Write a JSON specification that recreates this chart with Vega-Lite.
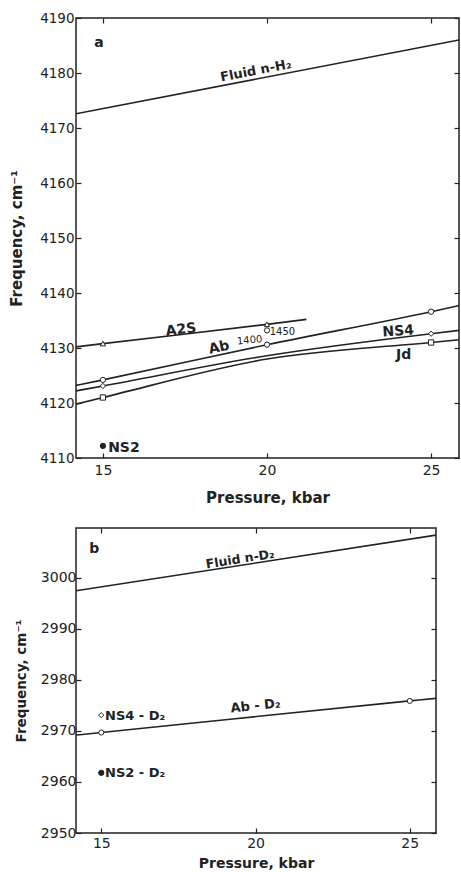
{
  "$schema": "https://vega.github.io/schema/vega-lite/v6.json",
  "background": "white",
  "padding": {"left": 8, "top": 10, "right": 0, "bottom": 0},
  "spacing": 20,
  "resolve": {"scale": {"shape": "independent", "fill": "independent", "size": "independent"}},
  "config": {
    "view": {"stroke": "#222", "strokeWidth": 1.5},
    "axis": {
      "domain": false, "grid": false, "tickColor": "#222", "tickSize": -5, "tickWidth": 1.2,
      "labelColor": "#222", "labelFont": "DejaVu Sans", "titleFont": "DejaVu Sans",
      "titleColor": "#222", "titleFontWeight": "bold", "format": "d"
    },
    "text": {"font": "DejaVu Sans", "fontWeight": "bold", "fill": "#222"}
  },
  "datasets": {
    "linesA": [
      {"series": "Fluid n-H2", "pressure": 14.18, "frequency": 4172.6},
      {"series": "Fluid n-H2", "pressure": 25.85, "frequency": 4186.0},
      {"series": "A2S", "pressure": 14.18, "frequency": 4130.2},
      {"series": "A2S", "pressure": 15, "frequency": 4130.8},
      {"series": "A2S", "pressure": 20, "frequency": 4134.3},
      {"series": "A2S", "pressure": 21.2, "frequency": 4135.2},
      {"series": "Ab", "pressure": 14.18, "frequency": 4123.2},
      {"series": "Ab", "pressure": 15, "frequency": 4124.2},
      {"series": "Ab", "pressure": 20, "frequency": 4130.6},
      {"series": "Ab", "pressure": 25, "frequency": 4136.6},
      {"series": "Ab", "pressure": 25.85, "frequency": 4137.7},
      {"series": "NS4", "pressure": 14.18, "frequency": 4122.2},
      {"series": "NS4", "pressure": 15, "frequency": 4123.1},
      {"series": "NS4", "pressure": 20, "frequency": 4128.6},
      {"series": "NS4", "pressure": 25, "frequency": 4132.6},
      {"series": "NS4", "pressure": 25.85, "frequency": 4133.2},
      {"series": "Jd", "pressure": 14.18, "frequency": 4119.8},
      {"series": "Jd", "pressure": 15, "frequency": 4121.0},
      {"series": "Jd", "pressure": 20, "frequency": 4128.0},
      {"series": "Jd", "pressure": 25, "frequency": 4131.0},
      {"series": "Jd", "pressure": 25.85, "frequency": 4131.5}
    ],
    "pointsA": [
      {"series": "A2S", "pressure": 15, "frequency": 4130.8},
      {"series": "A2S", "pressure": 20, "frequency": 4134.3},
      {"series": "Ab", "pressure": 15, "frequency": 4124.2},
      {"series": "Ab", "pressure": 20, "frequency": 4130.6},
      {"series": "Ab", "pressure": 25, "frequency": 4136.6},
      {"series": "Ab 1450", "pressure": 20, "frequency": 4133.2},
      {"series": "NS4", "pressure": 15, "frequency": 4123.1},
      {"series": "NS4", "pressure": 25, "frequency": 4132.6},
      {"series": "Jd", "pressure": 15, "frequency": 4121.0},
      {"series": "Jd", "pressure": 25, "frequency": 4131.0},
      {"series": "NS2", "pressure": 15, "frequency": 4112.2}
    ],
    "labelsA": [
      {"label": "a", "pressure": 14.88, "frequency": 4185.5},
      {"label": "Fluid n-H₂", "pressure": 19.66, "frequency": 4180.4},
      {"label": "A2S", "pressure": 17.38, "frequency": 4133.3},
      {"label": "Ab", "pressure": 18.54, "frequency": 4130.05},
      {"label": "1400", "pressure": 19.47, "frequency": 4131.4},
      {"label": "1450", "pressure": 20.47, "frequency": 4133.0},
      {"label": "NS4", "pressure": 24.0, "frequency": 4133.0},
      {"label": "Jd", "pressure": 24.16, "frequency": 4128.7},
      {"label": "NS2", "pressure": 15.64, "frequency": 4111.9}
    ],
    "linesB": [
      {"series": "Fluid n-D2", "pressure": 14.18, "frequency": 2997.5},
      {"series": "Fluid n-D2", "pressure": 25.85, "frequency": 3008.4},
      {"series": "Ab-D2", "pressure": 14.18, "frequency": 2969.2},
      {"series": "Ab-D2", "pressure": 15, "frequency": 2969.7},
      {"series": "Ab-D2", "pressure": 25, "frequency": 2975.9},
      {"series": "Ab-D2", "pressure": 25.85, "frequency": 2976.4}
    ],
    "pointsB": [
      {"series": "Ab-D2", "pressure": 15, "frequency": 2969.7},
      {"series": "Ab-D2", "pressure": 25, "frequency": 2975.9},
      {"series": "NS4-D2", "pressure": 15, "frequency": 2973.1},
      {"series": "NS2-D2", "pressure": 15, "frequency": 2961.8}
    ],
    "labelsB": [
      {"label": "b", "pressure": 14.77, "frequency": 3005.7},
      {"label": "Fluid n-D₂", "pressure": 19.5, "frequency": 3003.7},
      {"label": "Ab - D₂", "pressure": 20.0, "frequency": 2974.9},
      {"label": "NS4 - D₂", "pressure": 15.12, "frequency": 2972.9},
      {"label": "NS2 - D₂", "pressure": 15.12, "frequency": 2961.8}
    ]
  },
  "vconcat": [
    {
      "width": 383,
      "height": 440,
      "resolve": {"axis": {"x": "independent", "y": "independent"}},
      "layer": [
        {
          "data": {"name": "linesA"},
          "mark": {"type": "line", "interpolate": "monotone", "color": "#222", "strokeWidth": 1.6, "clip": true},
          "encoding": {
            "x": {"field": "pressure", "type": "quantitative",
              "scale": {"domain": [14.18, 25.85], "nice": false, "zero": false},
              "axis": {"orient": "bottom", "values": [15, 20, 25], "title": "Pressure, kbar", "labelFontSize": 14, "titleFontSize": 15, "labelPadding": 10, "titlePadding": 13}},
            "y": {"field": "frequency", "type": "quantitative",
              "scale": {"domain": [4110, 4190], "nice": false, "zero": false},
              "axis": {"orient": "left", "values": [4110, 4120, 4130, 4140, 4150, 4160, 4170, 4180, 4190], "title": "Frequency, cm⁻¹", "labelFontSize": 13.5, "titleFontSize": 15, "labelPadding": 7, "titlePadding": 15}},
            "detail": {"field": "series"}
          }
        },
        {
          "data": {"name": "pointsA"},
          "mark": {"type": "point", "filled": true, "strokeWidth": 1, "stroke": "#222", "opacity": 1},
          "encoding": {
            "x": {"field": "pressure", "type": "quantitative",
              "axis": {"orient": "top", "values": [15, 20, 25], "labels": false, "title": null}},
            "y": {"field": "frequency", "type": "quantitative",
              "axis": {"orient": "right", "values": [4110, 4120, 4130, 4140, 4150, 4160, 4170, 4180, 4190], "labels": false, "title": null}},
            "shape": {"field": "series", "type": "nominal", "legend": null,
              "scale": {"domain": ["A2S", "Ab", "Ab 1450", "NS4", "Jd", "NS2"], "range": ["triangle-up", "circle", "circle", "diamond", "square", "circle"]}},
            "fill": {"field": "series", "type": "nominal", "legend": null,
              "scale": {"domain": ["A2S", "Ab", "Ab 1450", "NS4", "Jd", "NS2"], "range": ["white", "white", "white", "white", "white", "#222"]}},
            "size": {"field": "series", "type": "nominal", "legend": null,
              "scale": {"domain": ["A2S", "Ab", "Ab 1450", "NS4", "Jd", "NS2"], "range": [28, 28, 28, 30, 28, 10]}}
          }
        },
        {
          "data": {"name": "labelsA"},
          "transform": [{"filter": {"field": "label", "oneOf": ["a", "Jd", "NS2"]}}],
          "mark": {"type": "text", "fontSize": 14},
          "encoding": {
            "x": {"field": "pressure", "type": "quantitative", "axis": null},
            "y": {"field": "frequency", "type": "quantitative", "axis": null},
            "text": {"field": "label"}
          }
        },
        {
          "data": {"name": "labelsA"},
          "transform": [{"filter": {"field": "label", "equal": "Fluid n-H₂"}}],
          "mark": {"type": "text", "fontSize": 13, "angle": -11},
          "encoding": {
            "x": {"field": "pressure", "type": "quantitative", "axis": null},
            "y": {"field": "frequency", "type": "quantitative", "axis": null},
            "text": {"field": "label"}
          }
        },
        {
          "data": {"name": "labelsA"},
          "transform": [{"filter": {"field": "label", "equal": "A2S"}}],
          "mark": {"type": "text", "fontSize": 14, "angle": -7},
          "encoding": {
            "x": {"field": "pressure", "type": "quantitative", "axis": null},
            "y": {"field": "frequency", "type": "quantitative", "axis": null},
            "text": {"field": "label"}
          }
        },
        {
          "data": {"name": "labelsA"},
          "transform": [{"filter": {"field": "label", "equal": "Ab"}}],
          "mark": {"type": "text", "fontSize": 14, "angle": -12},
          "encoding": {
            "x": {"field": "pressure", "type": "quantitative", "axis": null},
            "y": {"field": "frequency", "type": "quantitative", "axis": null},
            "text": {"field": "label"}
          }
        },
        {
          "data": {"name": "labelsA"},
          "transform": [{"filter": {"field": "label", "equal": "NS4"}}],
          "mark": {"type": "text", "fontSize": 14, "angle": -4},
          "encoding": {
            "x": {"field": "pressure", "type": "quantitative", "axis": null},
            "y": {"field": "frequency", "type": "quantitative", "axis": null},
            "text": {"field": "label"}
          }
        },
        {
          "data": {"name": "labelsA"},
          "transform": [{"filter": {"field": "label", "equal": "1400"}}],
          "mark": {"type": "text", "fontSize": 10, "fontWeight": "normal", "angle": -5},
          "encoding": {
            "x": {"field": "pressure", "type": "quantitative", "axis": null},
            "y": {"field": "frequency", "type": "quantitative", "axis": null},
            "text": {"field": "label"}
          }
        },
        {
          "data": {"name": "labelsA"},
          "transform": [{"filter": {"field": "label", "equal": "1450"}}],
          "mark": {"type": "text", "fontSize": 10, "fontWeight": "normal"},
          "encoding": {
            "x": {"field": "pressure", "type": "quantitative", "axis": null},
            "y": {"field": "frequency", "type": "quantitative", "axis": null},
            "text": {"field": "label"}
          }
        }
      ]
    },
    {
      "width": 360,
      "height": 305,
      "resolve": {"axis": {"x": "independent", "y": "independent"}},
      "layer": [
        {
          "data": {"name": "linesB"},
          "mark": {"type": "line", "interpolate": "monotone", "color": "#222", "strokeWidth": 1.6, "clip": true},
          "encoding": {
            "x": {"field": "pressure", "type": "quantitative",
              "scale": {"domain": [14.18, 25.85], "nice": false, "zero": false},
              "axis": {"orient": "bottom", "values": [15, 20, 25], "title": "Pressure, kbar", "labelFontSize": 14, "titleFontSize": 14, "labelPadding": 8, "titlePadding": 6}},
            "y": {"field": "frequency", "type": "quantitative",
              "scale": {"domain": [2950, 3009.8], "nice": false, "zero": false},
              "axis": {"orient": "left", "values": [2950, 2960, 2970, 2980, 2990, 3000], "title": "Frequency, cm⁻¹", "labelFontSize": 14, "titleFontSize": 13.5, "labelPadding": 5, "titlePadding": 12}},
            "detail": {"field": "series"}
          }
        },
        {
          "data": {"name": "pointsB"},
          "mark": {"type": "point", "filled": true, "strokeWidth": 1, "stroke": "#222", "opacity": 1},
          "encoding": {
            "x": {"field": "pressure", "type": "quantitative",
              "axis": {"orient": "top", "values": [15, 20, 25], "labels": false, "title": null}},
            "y": {"field": "frequency", "type": "quantitative",
              "axis": {"orient": "right", "values": [2950, 2960, 2970, 2980, 2990, 3000], "labels": false, "title": null}},
            "shape": {"field": "series", "type": "nominal", "legend": null,
              "scale": {"domain": ["Ab-D2", "NS4-D2", "NS2-D2"], "range": ["circle", "diamond", "circle"]}},
            "fill": {"field": "series", "type": "nominal", "legend": null,
              "scale": {"domain": ["Ab-D2", "NS4-D2", "NS2-D2"], "range": ["white", "white", "#222"]}},
            "size": {"field": "series", "type": "nominal", "legend": null,
              "scale": {"domain": ["Ab-D2", "NS4-D2", "NS2-D2"], "range": [26, 28, 10]}}
          }
        },
        {
          "data": {"name": "labelsB"},
          "transform": [{"filter": {"field": "label", "equal": "b"}}],
          "mark": {"type": "text", "fontSize": 14},
          "encoding": {
            "x": {"field": "pressure", "type": "quantitative", "axis": null},
            "y": {"field": "frequency", "type": "quantitative", "axis": null},
            "text": {"field": "label"}
          }
        },
        {
          "data": {"name": "labelsB"},
          "transform": [{"filter": {"field": "label", "oneOf": ["NS4 - D₂", "NS2 - D₂"]}}],
          "mark": {"type": "text", "fontSize": 13, "align": "left"},
          "encoding": {
            "x": {"field": "pressure", "type": "quantitative", "axis": null},
            "y": {"field": "frequency", "type": "quantitative", "axis": null},
            "text": {"field": "label"}
          }
        },
        {
          "data": {"name": "labelsB"},
          "transform": [{"filter": {"field": "label", "equal": "Fluid n-D₂"}}],
          "mark": {"type": "text", "fontSize": 12.5, "angle": -9},
          "encoding": {
            "x": {"field": "pressure", "type": "quantitative", "axis": null},
            "y": {"field": "frequency", "type": "quantitative", "axis": null},
            "text": {"field": "label"}
          }
        },
        {
          "data": {"name": "labelsB"},
          "transform": [{"filter": {"field": "label", "equal": "Ab - D₂"}}],
          "mark": {"type": "text", "fontSize": 13, "angle": -6},
          "encoding": {
            "x": {"field": "pressure", "type": "quantitative", "axis": null},
            "y": {"field": "frequency", "type": "quantitative", "axis": null},
            "text": {"field": "label"}
          }
        }
      ]
    }
  ]
}
